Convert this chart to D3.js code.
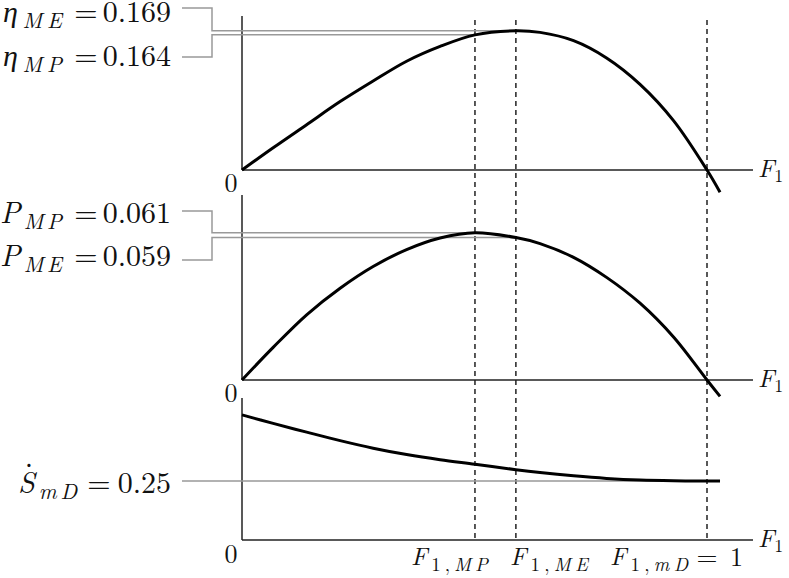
<!DOCTYPE html>
<html>
<head>
<meta charset="utf-8">
<script src="https://cdn.jsdelivr.net/npm/d3@7"></script>
<style>
  body { margin: 0; background: #fff; }
  svg { display: block; }
</style>
</head>
<body>
<svg></svg>
<script>
// --- data ---
const F = [0, 0.067, 0.139, 0.211, 0.282, 0.354, 0.426, 0.501, 0.589, 0.641, 0.713, 0.784, 0.856, 0.928, 1.0, 1.028];
const eta = [0, 0.027, 0.055, 0.083, 0.108, 0.132, 0.150, 0.164, 0.169, 0.167, 0.157, 0.136, 0.104, 0.060, 0, -0.027];
const power = [0, 0.0135, 0.027, 0.038, 0.047, 0.054, 0.0588, 0.061, 0.059, 0.0565, 0.0508, 0.0425, 0.0318, 0.0178, 0, -0.0068];
const entropy = [0.53, 0.494, 0.457, 0.421, 0.389, 0.362, 0.340, 0.321, 0.298, 0.286, 0.272, 0.261, 0.254, 0.251, 0.25, 0.25];

const fMarks = [0.501, 0.589, 1];
const fMarkNames = ['MP', 'ME', 'mD'];

const etaMarkNames = ['ME', 'MP'];
const etaMarkValues = [0.169, 0.164];
const etaMarkF = [0.589, 0.501];

const powMarkNames = ['MP', 'ME'];
const powMarkValues = [0.061, 0.059];
const powMarkF = [0.501, 0.589];

const sMarkName = 'mD';
const sMarkValue = 0.25;

// --- layout ---
const WIDTH = 789;
const HEIGHT = 578;
const X0 = 242;
const AXIS_END = 753;
const GRAY = '#999';
const INK = '#111';

const svg = d3.select('svg').
attr('width', WIDTH).
attr('height', HEIGHT).
attr('fill', INK).
style('font-family', "'Latin Modern Roman', 'Liberation Serif', serif");

const xScale = d3.scaleLinear().domain([0, 1]).range([X0, 707]);
const yEta = d3.scaleLinear().domain([0, 0.1]).range([170, 170 - 82.4]);
const yPow = d3.scaleLinear().domain([0, 0.01]).range([380, 380 - 24.15]);
const yS = d3.scaleLinear().domain([0, 0.1]).range([540, 540 - 23.6]);

const panels = [
{ axisY: 170, top: 16, zeroY: 192 },
{ axisY: 380, top: 195, zeroY: 402 },
{ axisY: 540, top: 398, zeroY: 563 }];


// text with italic parts and subscripts
function mathLabel(parent, x, y, parts, size, subSize, subDy, len, anchor) {
  const t = parent.append('text').
  attr('x', x).
  attr('y', y).
  attr('font-size', size).
  attr('text-anchor', anchor || 'start');
  let lowered = false;
  parts.forEach(p => {
    const s = t.append('tspan').text(p.t).attr('font-style', p.i ? 'italic' : 'normal');
    if (p.sub) s.attr('font-size', subSize);
    if (p.greek) s.style('font-family', "'Liberation Serif', serif");
    if (p.sub && !lowered) {s.attr('dy', subDy);lowered = true;}
    if (!p.sub && lowered) {s.attr('dy', -subDy);lowered = false;}
  });
  if (len) t.attr('textLength', len).attr('lengthAdjust', 'spacing');
  return t;
}

/* --AXES-- */
const axesG = svg.append('g').attr('stroke', '#222').attr('stroke-width', 1.5);

panels.forEach(p => {
  axesG.append('line').
  attr('x1', X0).attr('x2', X0).
  attr('y1', p.top).attr('y2', p.axisY);
  axesG.append('line').
  attr('x1', X0).attr('x2', AXIS_END).
  attr('y1', p.axisY).attr('y2', p.axisY);

  svg.append('text').
  attr('x', 231).
  attr('y', p.zeroY).
  attr('text-anchor', 'middle').
  attr('font-size', 26).
  text('0');

  mathLabel(svg, 758, p.axisY + 7, [{ t: 'F', i: 1 }, { t: '1', sub: 1 }], 25, 18, 5);
});

/* --DASHED MARKERS-- */
svg.append('g').
selectAll('line').
data(fMarks).
join('line').
attr('x1', d => xScale(d)).
attr('x2', d => xScale(d)).
attr('y1', 20).
attr('y2', 540).
attr('stroke', '#222').
attr('stroke-width', 1.5).
attr('stroke-dasharray', '5,4');

// bottom marker labels
const fLabelStart = [411, 510, 610];
const fLabelLen = [77, 78, 78];
fMarkNames.forEach((name, i) => {
  mathLabel(svg, fLabelStart[i], 565,
  [{ t: 'F', i: 1 }, { t: '1,', sub: 1 }, { t: name, i: 1, sub: 1 }],
  25, 19, 6, fLabelLen[i]);
});
svg.append('text').attr('x', 707).attr('y', 566).attr('text-anchor', 'middle').attr('font-size', 27).text('=');
svg.append('text').attr('x', 743).attr('y', 566).attr('text-anchor', 'end').attr('font-size', 26).text('1');

/* --GUIDE LINES AND LEFT LABELS-- */
const guideG = svg.append('g').attr('fill', 'none').attr('stroke', GRAY).attr('stroke-width', 1.5);

function leftLabel(sym, name, value, fmt, baseline, symStart, symLen, eqX, greek) {
  mathLabel(svg, symStart, baseline, [{ t: sym, i: 1, greek: greek }, { t: name, i: 1, sub: 1 }], 30, 22, 6, symLen);
  svg.append('text').attr('x', eqX).attr('y', baseline).attr('text-anchor', 'middle').attr('font-size', 30).text('=');
  svg.append('text').attr('x', 171).attr('y', baseline).attr('text-anchor', 'end').attr('font-size', 30).text(fmt(value));
}

const etaBase = [22, 66];
const etaElbow = [8, 57];
etaMarkNames.forEach((name, i) => {
  leftLabel('η', name, etaMarkValues[i], d3.format('.3f'), etaBase[i], 3, 59, 86, true);
  guideG.append('path').
  attr('d', `M182,${etaElbow[i]}H212V${yEta(etaMarkValues[i])}H${xScale(etaMarkF[i])}`);
});

const powBase = [223, 266];
const powElbow = [211, 260];
powMarkNames.forEach((name, i) => {
  leftLabel('P', name, powMarkValues[i], d3.format('.3f'), powBase[i], 0, 62, 86);
  guideG.append('path').
  attr('d', `M182,${powElbow[i]}H212V${yPow(powMarkValues[i])}H${xScale(powMarkF[i])}`);
});

leftLabel('S', sMarkName, sMarkValue, d3.format('.2f'), 493, 18, 59, 99);
// dot over the S (rate)
svg.append('text').attr('x', 29).attr('y', 467).attr('text-anchor', 'middle').attr('font-size', 30).text('.');
guideG.append('path').
attr('d', `M182,${yS(sMarkValue)}H${xScale(F[F.length - 1])}`);

/* --CURVES-- */
function drawCurve(values, yScale) {
  const line = d3.line().
  x((d, i) => xScale(F[i])).
  y(d => yScale(d)).
  curve(d3.curveCatmullRom.alpha(0.5));
  svg.append('path').
  attr('d', line(values)).
  attr('fill', 'none').
  attr('stroke', '#000').
  attr('stroke-width', 3);
}

drawCurve(eta, yEta);
drawCurve(power, yPow);
drawCurve(entropy, yS);
</script>
</body>
</html>
